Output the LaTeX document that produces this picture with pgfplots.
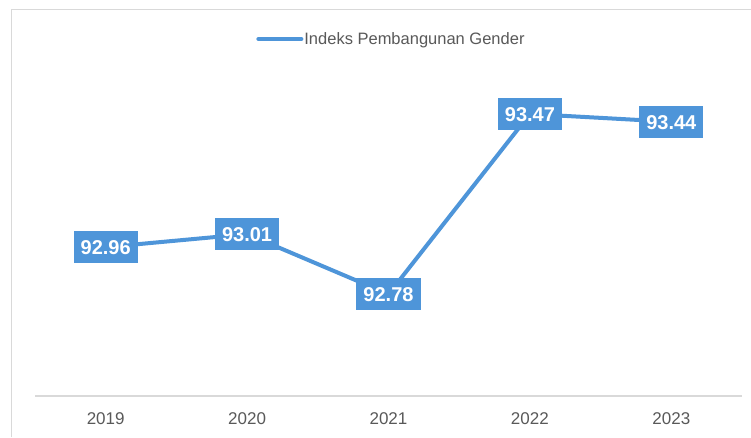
\documentclass[border=0pt]{standalone}
\usepackage{fontspec}
\setmainfont{Liberation Sans}
\usepackage{pgfplots}
\pgfplotsset{compat=1.18}
\definecolor{lineblue}{RGB}{78,149,217}
\definecolor{axgray}{RGB}{217,217,217}
\definecolor{txtgray}{RGB}{89,89,89}
\begin{document}
\begin{tikzpicture}
\useasboundingbox (0,0) rectangle (751pt,437pt);
\fill[white] (0,0) rectangle (751pt,437pt);
\draw[axgray, line width=1pt] (11pt,0pt) -- (11pt,427pt) -- (751pt,427pt);
\begin{axis}[
  at={(35pt,41pt)}, anchor=south west,
  scale only axis,
  width=707pt, height=316pt,
  xmin=-0.5, xmax=4.5,
  ymin=92.39, ymax=93.60,
  axis y line=none,
  axis x line*=bottom,
  x axis line style={axgray, line width=1.3pt, -},
  xtick={0,1,2,3,4},
  xticklabels={2019,2020,2021,2022,2023},
  major tick length=0pt,
  xticklabel style={font=\fontsize{17}{20}\selectfont, text=txtgray, yshift=-13pt},
  clip=false,
  legend style={at={(0.5035,1.1297)}, anchor=center, draw=none, fill=none,
    font=\fontsize{16.5}{19}\selectfont, text=txtgray, inner sep=0pt,
    nodes={inner sep=1pt}},
  legend image code/.code={\draw[line width=4pt, line cap=round, #1] (0pt,0pt) -- (43pt,0pt);},
  point meta=explicit symbolic,
  nodes near coords,
  every node near coord/.append style={anchor=center, fill=lineblue, text=white,
    font=\bfseries\fontsize{20}{24}\selectfont, inner xsep=7pt, inner ysep=8.5pt,
    text height=14.5pt, text depth=0pt},
]
\addplot[lineblue, line width=4pt, no marks] coordinates {
  (0,92.96) [92.96]
  (1,93.01) [93.01]
  (2,92.78) [92.78]
  (3,93.47) [93.47]
  (4,93.44) [93.44]
};
\addlegendentry{Indeks Pembangunan Gender}
\end{axis}
\end{tikzpicture}
\end{document}
